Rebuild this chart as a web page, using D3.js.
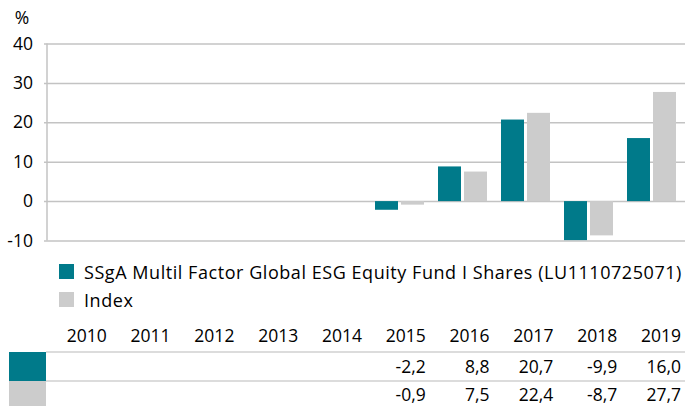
<!DOCTYPE html>
<html>
<head>
<meta charset="utf-8">
<script src="https://cdn.jsdelivr.net/npm/d3@7"></script>
<style>
  body { margin: 0; background: #fff; }
  svg { display: block; font-family: "Open Sans", sans-serif; }
</style>
</head>
<body>
<div id="chart"></div>
<script>
// Data
const years = [2010, 2011, 2012, 2013, 2014, 2015, 2016, 2017, 2018, 2019];
const fundValues = [null, null, null, null, null, -2.2, 8.8, 20.7, -9.9, 16.0];
const indexValues = [null, null, null, null, null, -0.9, 7.5, 22.4, -8.7, 27.7];
const seriesNames = ["SSgA Multil Factor Global ESG Equity Fund I Shares (LU1110725071)", "Index"];
const seriesColors = ["#007a8a", "#cccccc"];
const yTicks = [-10, 0, 10, 20, 30, 40];

const w = 685, h = 406;
const fontSize = 17.5;
const gridColor = "#c3c3c3";

// hyphen minus and comma decimal, as in the reference
const locale = d3.formatLocale({ decimal: ",", thousands: ".", grouping: [3], currency: ["", ""], minus: "-" });
const fmtVal = locale.format(".1f");
const fmtTick = locale.format("d");

const svg = d3.select("#chart").append("svg")
    .attr("width", w)
    .attr("height", h);

// Scales
const plotLeft = 47, plotRight = 685;
const y = d3.scaleLinear()
    .domain([-10, 40])
    .range([240.5, 43.5]);

const x = d3.scaleBand()
    .domain(years)
    .range([53, 683]);

const x1 = d3.scaleBand()
    .domain([0, 1])
    .range([7, 56])
    .paddingInner(0.1154);

// Y axis with gridlines
const yAxis = svg.append("g")
    .attr("transform", `translate(${plotLeft},0)`)
    .call(d3.axisLeft(y)
        .tickValues(yTicks)
        .tickFormat(fmtTick)
        .tickSize(-(plotRight - plotLeft))
        .tickSizeOuter(0)
        .tickPadding(14));

yAxis.select(".domain").remove();
yAxis.selectAll(".tick line")
    .attr("x1", -3)
    .attr("stroke", gridColor)
    .attr("stroke-width", 1.5);
yAxis.selectAll(".tick text")
    .attr("font-size", fontSize)
    .attr("font-family", "'Open Sans', sans-serif")
    .attr("fill", "#000");

svg.append("line")
    .attr("x1", plotLeft).attr("x2", plotLeft)
    .attr("y1", y(40)).attr("y2", y(-10))
    .attr("stroke", gridColor)
    .attr("stroke-width", 1.5);

svg.append("text")
    .attr("x", 22)
    .attr("y", 24)
    .attr("text-anchor", "middle")
    .attr("font-size", fontSize)
    .text("%");

// Bars
[fundValues, indexValues].forEach((vals, s) => {
    svg.append("g").selectAll("rect")
        .data(years.map((yr, i) => ({ yr, v: vals[i] })).filter(d => d.v !== null))
        .enter()
        .append("rect")
        .attr("x", d => x(d.yr) + x1(s))
        .attr("width", x1.bandwidth())
        .attr("y", d => y(Math.max(0, d.v)))
        .attr("height", d => Math.abs(y(d.v) - y(0)))
        .attr("fill", seriesColors[s]);
});

// Legend (a bit wider text, like the original)
const legend = svg.append("g");
seriesNames.forEach((name, i) => {
    legend.append("rect")
        .attr("x", 59).attr("y", 264 + i * 28)
        .attr("width", 15).attr("height", 15)
        .attr("fill", seriesColors[i]);
    legend.append("text")
        .attr("x", 84).attr("y", 279 + i * 28)
        .attr("font-size", 18)
        .attr("letter-spacing", 0.55)
        .text(name);
});

// Data table
const tx = d3.scaleBand()
    .domain(years)
    .range([46, 684]);

const table = svg.append("g");
table.selectAll(".year")
    .data(years)
    .enter()
    .append("text")
    .attr("class", "year")
    .attr("x", d => tx(d) + tx.bandwidth() - 3)
    .attr("y", 342)
    .attr("text-anchor", "end")
    .attr("font-size", fontSize)
    .text(d => d);

const rowTop = [352, 381];
const rowBottom = [381, 406];
const rowBaseline = [373, 401];

[fundValues, indexValues].forEach((vals, s) => {
    table.append("rect")
        .attr("x", 9).attr("y", rowTop[s])
        .attr("width", 37).attr("height", rowBottom[s] - rowTop[s])
        .attr("fill", seriesColors[s]);
    table.append("line")
        .attr("x1", 46).attr("x2", w)
        .attr("y1", rowTop[s]).attr("y2", rowTop[s])
        .attr("stroke", "#d0d0d0")
        .attr("stroke-width", 1.5);
    table.selectAll(".v" + s)
        .data(years.map((yr, i) => ({ yr, v: vals[i] })).filter(d => d.v !== null))
        .enter()
        .append("text")
        .attr("x", d => tx(d.yr) + tx.bandwidth() - 3)
        .attr("y", rowBaseline[s])
        .attr("text-anchor", "end")
        .attr("font-size", fontSize)
        .text(d => fmtVal(d.v));
});
</script>
</body>
</html>
